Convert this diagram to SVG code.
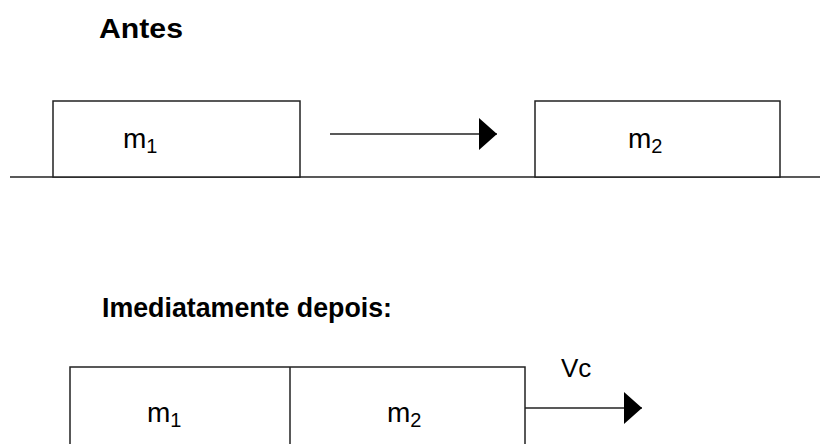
<svg xmlns="http://www.w3.org/2000/svg" width="820" height="444" viewBox="0 0 820 444">
<style>
.t{font-family:"Liberation Sans",Arial,sans-serif;fill:#000}
.h{font-weight:bold;font-size:28px}
.m{font-size:28px}
.s{font-size:20px}
.v{font-size:26px}
.b{fill:#fff;stroke:#222;stroke-width:1.5}
.l{stroke:#222;stroke-width:1.5;fill:none}
</style>
<defs>
<marker id="ah" viewBox="0 0 18 32" refX="18" refY="16" markerWidth="18" markerHeight="32" markerUnits="userSpaceOnUse" orient="auto">
<path d="M0,0 L18,16 L0,32 Z" fill="#000"/>
</marker>
</defs>
<text class="t h" x="99" y="38" textLength="84" lengthAdjust="spacingAndGlyphs">Antes</text>
<line class="l" x1="10" y1="177" x2="820" y2="177"/>
<g id="m1-before">
<rect class="b" x="53" y="101" width="247" height="76"/>
<text class="t m" x="123" y="148">m<tspan class="s" dy="5">1</tspan></text>
</g>
<g id="m2-before">
<rect class="b" x="535" y="101" width="245" height="76"/>
<text class="t m" x="628" y="148">m<tspan class="s" dy="5">2</tspan></text>
</g>
<text class="t h" x="102" y="317" textLength="290" lengthAdjust="spacingAndGlyphs">Imediatamente depois:</text>
<g id="combined">
<rect class="b" x="70" y="367" width="455" height="90"/>
<line class="l" x1="290" y1="367" x2="290" y2="444"/>
<text class="t m" x="147" y="422">m<tspan class="s" dy="5">1</tspan></text>
<text class="t m" x="387" y="422">m<tspan class="s" dy="5">2</tspan></text>
</g>
<text class="t v" x="561" y="377">Vc</text>
<g id="connectors">
<line class="l" x1="330" y1="134" x2="497" y2="134" marker-end="url(#ah)"/>
<line class="l" x1="525" y1="408" x2="642" y2="408" marker-end="url(#ah)"/>
</g>
</svg>
